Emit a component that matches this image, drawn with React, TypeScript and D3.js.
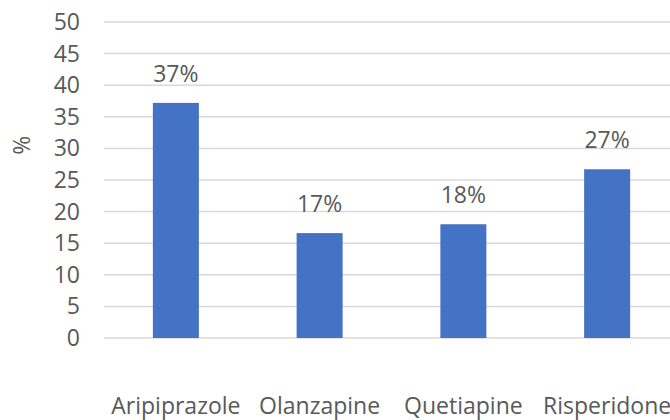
import { useEffect, useRef } from 'react'
import * as d3 from "d3"

const drugs = ['Aripiprazole', 'Olanzapine', 'Quetiapine', 'Risperidone']
const shares = [37.2, 16.6, 18.0, 26.7]
const shareLabels = ['37%', '17%', '18%', '27%']
const yTicks = [0, 5, 10, 15, 20, 25, 30, 35, 40, 45, 50]

const W = 670
const H = 420
const FONT = '"Open Sans", sans-serif'
const FONT_SIZE = 23
const TEXT_COLOR = '#595959'

function App() {
  const svgRef = useRef(null)

  useEffect(() => {
    const svg = d3.select(svgRef.current)
    svg.selectAll('*').remove()

    const x = d3.scaleBand().domain(drugs).range([104, 679]).paddingInner(0.68).paddingOuter(0.34)
    const y = d3.scaleLinear().domain([0, 50]).range([338, 22])

    // gridlines
    svg.append('g')
      .selectAll('line')
      .data(yTicks)
      .join('line')
      .attr('x1', 104)
      .attr('x2', 679)
      .attr('y1', d => y(d))
      .attr('y2', d => y(d))
      .attr('stroke', '#d9d9d9')
      .attr('stroke-width', 1.5)

    // tick labels
    svg.append('g')
      .selectAll('text')
      .data(yTicks)
      .join('text')
      .attr('x', 80)
      .attr('y', d => y(d))
      .attr('dy', '0.35em')
      .attr('text-anchor', 'end')
      .attr('font-family', FONT)
      .attr('font-size', FONT_SIZE)
      .attr('fill', TEXT_COLOR)
      .text(d => d)

    // axis title
    svg.append('text')
      .attr('transform', `translate(22,${y(30.5)}) rotate(-90)`)
      .attr('dy', '0.35em')
      .attr('text-anchor', 'middle')
      .attr('font-family', FONT)
      .attr('font-size', FONT_SIZE)
      .attr('fill', TEXT_COLOR)
      .text('%')

    // bars
    svg.append('g')
      .selectAll('rect')
      .data(drugs)
      .join('rect')
      .attr('x', d => x(d))
      .attr('width', x.bandwidth())
      .attr('y', (d, i) => y(shares[i]))
      .attr('height', (d, i) => y(0) - y(shares[i]))
      .attr('fill', '#4472c4')

    // value labels
    svg.append('g')
      .selectAll('text')
      .data(drugs)
      .join('text')
      .attr('x', d => x(d) + x.bandwidth() / 2)
      .attr('y', (d, i) => y(shares[i]) - 21)
      .attr('text-anchor', 'middle')
      .attr('font-family', FONT)
      .attr('font-size', FONT_SIZE)
      .attr('fill', TEXT_COLOR)
      .text((d, i) => shareLabels[i])

    // category labels
    svg.append('g')
      .selectAll('text')
      .data(drugs)
      .join('text')
      .attr('x', d => x(d) + x.bandwidth() / 2)
      .attr('y', 414)
      .attr('text-anchor', 'middle')
      .attr('font-family', FONT)
      .attr('font-size', FONT_SIZE)
      .attr('fill', TEXT_COLOR)
      .text(d => d)
  }, [])

  return (
    <svg ref={svgRef} width={W} height={H} style={{ position: 'absolute', left: 0, top: 0, background: '#fff' }}></svg>
  )
}

export default App
